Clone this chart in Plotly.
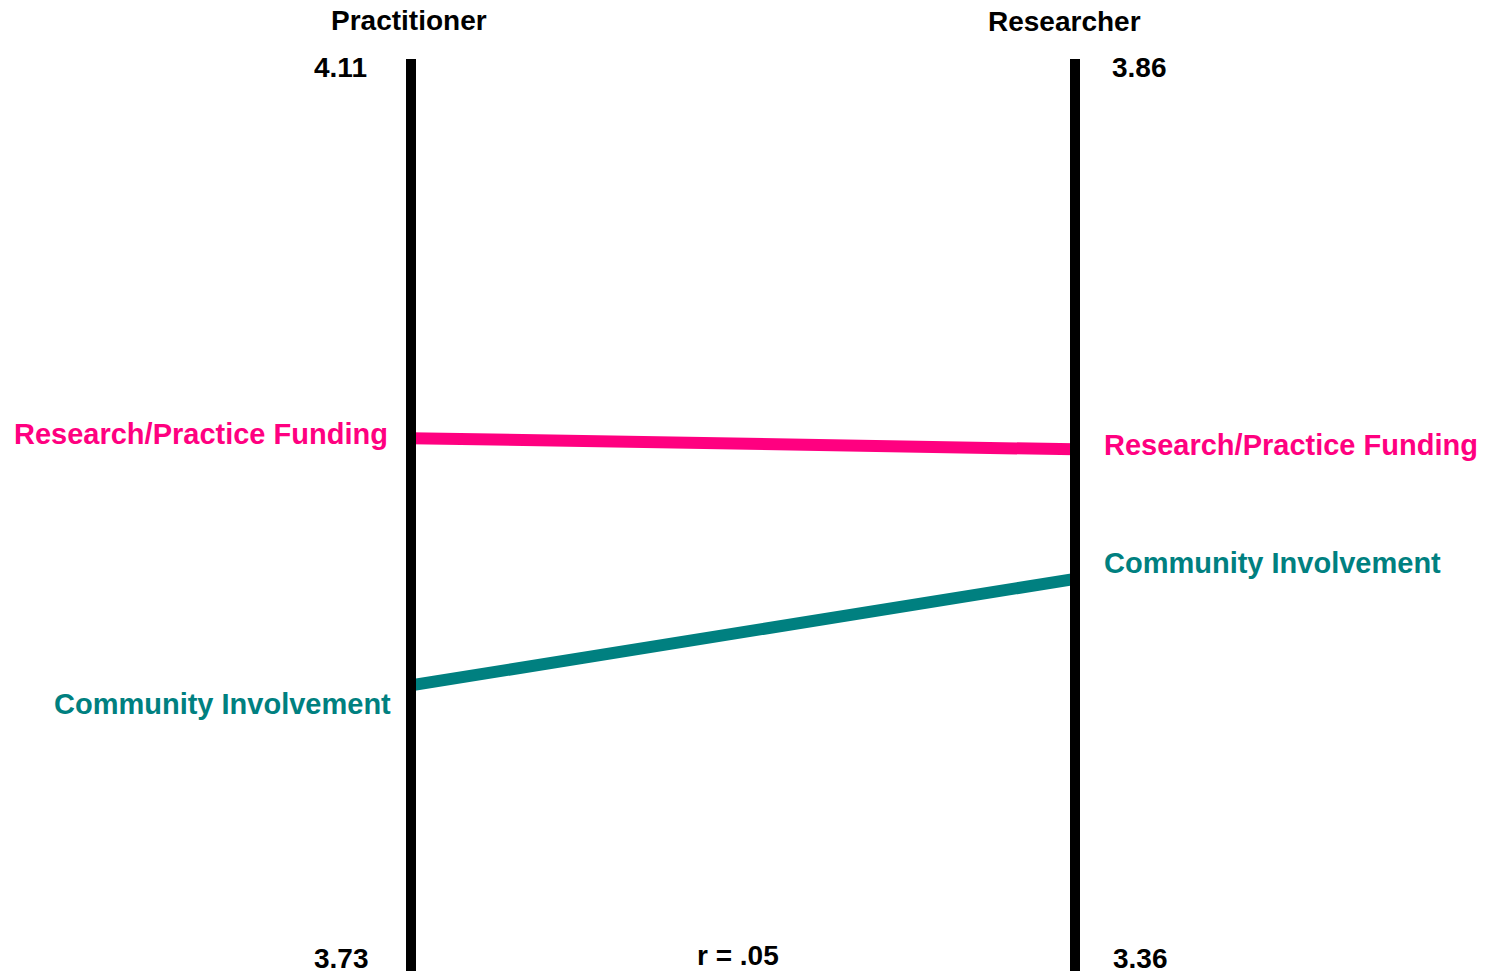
import plotly.graph_objects as go

# ---- data ----
groups = ["Practitioner", "Researcher"]
left_range = [3.73, 4.11]     # Practitioner scale (min, max)
right_range = [3.36, 3.86]    # Researcher scale (min, max)
left_ticks = ["3.73", "4.11"]
right_ticks = ["3.36", "3.86"]
series_names = ["Research/Practice Funding", "Community Involvement"]
practitioner_vals = [3.952, 3.849]
researcher_vals = [3.646, 3.575]
series_colors = ["#FF0080", "#008080"]
corr_text = "r = .05"

W, H = 1495, 976
ML, MR, MT, MB = 411, 420, 59, 5
PW, PH = W - ML - MR, H - MT - MB
FONT = "Liberation Sans, Arial, sans-serif"


def to_left(v):
    # map Researcher value onto the Practitioner axis units
    return left_range[0] + (v - right_range[0]) / (right_range[1] - right_range[0]) * (left_range[1] - left_range[0])


def px_x(x):
    return (x - ML) / PW


def px_y(y):
    return (H - MB - y) / PH


fig = go.Figure()
for name, c, lv, rv in zip(series_names, series_colors, practitioner_vals, researcher_vals):
    fig.add_trace(go.Scatter(x=[0, 1], y=[lv, to_left(rv)], mode="lines",
                             line=dict(color=c, width=12), name=name,
                             hoverinfo="skip", showlegend=False))

for xv in [0, 1]:
    fig.add_shape(type="line", xref="paper", yref="paper", x0=xv, x1=xv, y0=0, y1=1,
                  line=dict(color="black", width=10), layer="above")

anns = []


def ann(text, xpx, ypx, xanchor, size, color="black"):
    anns.append(dict(text=text, x=px_x(xpx), y=px_y(ypx), xref="paper", yref="paper",
                     xanchor=xanchor, yanchor="middle", showarrow=False,
                     font=dict(size=size, color=color, family=FONT, weight="bold")))


# group titles
ann(groups[0], 408.5, 21, "center", 28)
ann(groups[1], 1064.7, 22, "center", 28)
# scale end labels
ann(left_ticks[1], 369, 67, "right", 28)
ann(left_ticks[0], 371, 958, "right", 28)
ann(right_ticks[1], 1110, 67, "left", 28)
ann(right_ticks[0], 1111, 958, "left", 28)
# correlation
ann(corr_text, 738, 955, "center", 28)
# series labels
left_label_pos = [(390, 434), (393, 703.5)]
right_label_pos = [(1102, 444.5), (1102, 562.5)]
for name, c, lp, rp in zip(series_names, series_colors, left_label_pos, right_label_pos):
    ann(name, lp[0], lp[1], "right", 29, c)
    ann(name, rp[0], rp[1], "left", 29, c)

fig.update_layout(
    width=W, height=H,
    margin=dict(l=ML, r=MR, t=MT, b=MB),
    plot_bgcolor="white", paper_bgcolor="white",
    xaxis=dict(range=[0, 1], visible=False, fixedrange=True),
    yaxis=dict(range=left_range, visible=False, fixedrange=True),
    annotations=anns,
    showlegend=False,
)

fig.write_html("out.html", config={"displayModeBar": False},
               post_script="document.body.style.margin='0px';document.body.style.overflow='hidden';")
